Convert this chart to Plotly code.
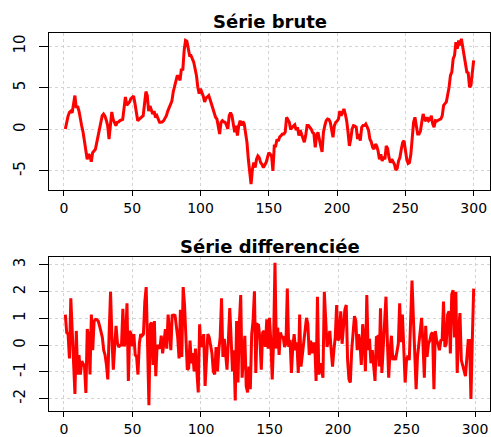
import plotly.graph_objects as go

# ---- Data ----
serie_brute = [
    0.05, 1.05, 1.6, 2.05, 2.2, 2.0, 3.2, 4.07, 2.6, 2.8,
    2.2, 1.0, 0.4, -0.35, -1.56, -2.97, -3.6, -3.0, -3.2, -3.9,
    -2.8, -2.6, -2.4, -1.6, -0.8, 0.05, 0.9, 1.65, 1.85, 1.6,
    1.1, 0.45, -1.16, 0.45, 2.1, 1.2, 0.7, 0.45, 0.85, 0.9,
    1.05, 1.1, 1.2, 2.55, 3.9, 2.9, 3.1, 3.3, 3.7, 3.8,
    4.0, 3.1, 2.0, 1.05, 1.2, 1.3, 1.5, 1.65, 2.9, 4.55,
    4.07, 2.2, 2.8, 2.2, 1.85, 2.2, 1.45, 1.65, 1.2, 0.85,
    0.85, 0.9, 1.05, 1.3, 1.65, 2.2, 2.6, 3.15, 3.4, 4.5,
    5.3, 6.1, 6.5, 6.3, 5.9, 7.3, 7.1, 9.5, 10.7, 10.6,
    9.5, 8.9, 8.9, 8.5, 8.1, 7.3, 6.5, 5.07, 4.3, 4.9,
    4.5, 4.0, 3.3, 3.75, 3.9, 4.07, 3.6, 3.0, 2.45, 1.8,
    1.45, 1.25, 0.45, -0.56, 0.85, 1.05, 0.9, 0.85, 0.5, 0.05,
    1.65, 2.0, 1.65, 0.6, -0.35, 0.45, -0.75, 0.45, 1.05, 0.45,
    0.95, 0.65, -0.3, -1.57, -3.6, -5.2, -6.6, -4.8, -4.0, -4.6,
    -3.6, -3.2, -3.4, -4.0, -4.2, -4.6, -4.3, -4.0, -3.4, -2.8,
    -3.0, -3.2, -5.0, -2.0, -2.0, -1.2, -1.4, -0.9, -0.75, -0.56,
    -0.56, -0.35, 1.45, 1.2, 0.85, 0.0, 0.25, 0.4, 0.55, -0.1,
    0.25, -0.75, -0.1, -0.6, -1.16, -1.56, -0.75, 0.45, 0.45, 0.25,
    0.05, -0.35, -0.5, -2.17, -0.75, -0.35, -1.36, -2.0, -2.7, -0.35,
    0.45, 1.05, 1.25, 1.2, 0.85, -0.1, -0.96, 0.45, 0.85, 1.0,
    1.25, 2.2, 1.65, 2.0, 2.45, 1.85, 1.05, -0.35, -2.0, -1.16,
    0.05, 0.45, 0.4, 0.25, -1.16, -0.56, -1.36, 0.25, 0.45, 0.45,
    0.65, 0.3, -0.1, -1.16, -1.5, -2.17, -2.37, -1.77, -2.0, -2.6,
    -3.6, -3.0, -3.8, -3.3, -3.6, -2.0, -2.3, -3.4, -4.0, -3.6,
    -4.0, -4.2, -4.9, -4.7, -3.8, -3.4, -2.4, -1.6, -1.36, -2.6,
    -3.6, -4.1, -4.0, -3.0, -0.5, 0.85, 1.45, 0.45, -0.56, -0.56,
    -0.2, 0.85, 1.85, 1.25, 1.0, 1.45, 1.05, 1.2, 1.65, 0.65,
    0.25, 1.05, 1.0, 1.1, 1.15, 1.25, 1.65, 2.9, 3.1, 3.3,
    4.2, 5.07, 6.5, 6.9, 8.5, 8.9, 10.5, 9.7, 10.7, 10.1,
    10.9, 10.1, 8.9, 7.9, 6.9, 6.8, 5.07, 5.3, 7.1, 8.3,
]

serie_diff = [
    1.14, 0.47, 0.41, -0.50, 1.75, 0.60, -0.07, -1.83, 0.53, -1.10,
    -0.37, -1.10, -0.60, -0.74, -0.80, -1.79, 0.60, 0.35, -1.10, 1.14,
    -0.19, 0.90, 0.96, 0.95, 0.90, 0.72, 0.50, 0.29, -0.19, -0.37,
    -0.74, -1.28, 0.50, 1.99, 0.29, -0.92, -0.07, 0.72, 0.10, -0.07,
    -0.01, 0.00, 1.36, -0.05, 0.20, 1.56, -1.34, 0.53, 0.41, -0.05,
    0.41, -0.37, -0.44, -1.10, 0.05, 0.41, 0.35, 0.41, 1.63, 2.17,
    0.05, -2.25, 0.78, 0.84, -0.74, 0.90, -1.16, 0.00, -0.07, -0.13,
    0.35, -0.31, 0.10, 0.60, -0.13, 1.14, 0.53, -0.19, 1.14, 1.10,
    1.14, 0.78, 0.29, -0.50, 1.32, -0.44, 2.17, 1.50, -0.07, -0.92,
    -0.86, 0.17, -0.68, -0.30, -0.98, -0.13, -0.98, -1.77, 0.78, -0.07,
    0.10, 0.41, -1.53, -0.68, 0.41, 0.29, -0.07, -0.30, -0.98, -1.10,
    -0.07, -0.98, -0.19, 0.30, 1.75, -0.44, 0.23, -0.31, -0.92, 0.20,
    1.38, 0.23, -0.98, -0.19, -2.07, 0.90, -1.40, 0.84, 1.87, -1.22,
    -0.31, 0.35, -1.53, -1.77, -0.80, -1.65, 0.41, 0.90, 2.01, -1.04,
    0.78, 0.75, 0.23, -0.92, 0.47, 0.53, -0.07, 0.96, -0.13, 1.02,
    0.10, -1.28, 0.17, 3.08, -0.13, 0.66, -0.37, 0.47, 0.29, 0.29,
    -0.07, 0.05, 2.11, -0.07, 0.20, -1.04, -0.07, 0.41, -0.19, 0.10,
    -1.04, 1.14, -0.80, -0.31, -0.07, 0.40, 1.02, 0.78, -0.37, 0.17,
    -0.31, 0.05, 0.05, -1.34, 1.81, -1.10, -0.68, -0.90, -1.22, 1.99,
    1.08, -0.07, 0.20, 0.53, -0.19, -0.80, -0.19, 0.30, 1.50, 0.17,
    0.29, 1.26, 0.05, 0.70, 1.32, 1.50, -0.56, -1.28, -1.40, -0.19,
    0.50, 1.08, 0.90, -0.19, 0.41, 0.10, -0.74, 0.78, 0.20, -0.98,
    1.87, -0.19, 0.23, -0.68, -0.19, -0.68, -1.34, 0.29, 0.32, -0.80,
    1.38, -1.04, -0.19, 0.50, 1.81, 0.17, -1.22, -0.19, 0.35, -0.56,
    -0.40, -0.56, -0.19, 0.05, 1.56, 0.11, 1.14, 0.05, -1.40, -0.56,
    -0.40, -0.56, 0.78, 2.41, 1.02, -0.19, -1.65, -0.44, 0.10, 0.41,
    1.02, 0.05, -1.22, 0.72, -0.44, 0.05, 0.17, 0.41, 0.47, -1.65,
    0.53, 0.17, 0.05, -0.19, 0.17, 0.20, 1.63, -0.07, 0.05, 1.14,
    1.26, -0.31, 1.90, 2.05, 0.29, 1.99, -1.04, 0.53, 1.20, -0.56,
    -0.80, -0.92, -1.16, -0.50, 0.17, 0.17, -2.01, 0.17, 2.11,
]

x_brute = list(range(1, len(serie_brute) + 1))
x_diff = list(range(1, len(serie_diff) + 1))
x_ticks = [0, 50, 100, 150, 200, 250, 300]
y_ticks_brute = [-5, 0, 5, 10]
y_ticks_diff = [-2, -1, 0, 1, 2, 3]
titles = ["Série brute", "Série differenciée"]


def r_range(vals):
    lo, hi = min(vals), max(vals)
    pad = 0.04 * (hi - lo)
    return [lo - pad, hi + pad]


FONT = "DejaVu Sans"
common = dict(showline=True, linecolor="black", linewidth=1, mirror=True,
              ticks="outside", tickcolor="black", tickwidth=1,
              showgrid=True, gridcolor="#D3D3D3", griddash="dot", gridwidth=1,
              zeroline=False, fixedrange=True, automargin=False)

fig = go.Figure()
fig.add_trace(go.Scatter(x=x_brute, y=serie_brute, mode="lines",
                         line=dict(color="red", width=3), xaxis="x", yaxis="y",
                         showlegend=False, hoverinfo="skip"))
fig.add_trace(go.Scatter(x=x_diff, y=serie_diff, mode="lines",
                         line=dict(color="red", width=3), xaxis="x2", yaxis="y2",
                         showlegend=False, hoverinfo="skip"))

TOP, BOTTOM = 33, 26
H_PLOT = 437 - TOP - BOTTOM
PLOT_BOTTOM = 437 - BOTTOM
top_lo = (PLOT_BOTTOM - 190) / H_PLOT
bot_hi = (PLOT_BOTTOM - 257) / H_PLOT


def xaxis(anchor, rng):
    return dict(domain=[0, 1], anchor=anchor, range=rng, tickvals=x_ticks,
                ticktext=[str(v) for v in x_ticks], ticklen=5,
                tickfont=dict(family=FONT, size=14, color="black"), **common)


def yaxis(anchor, dom, rng, ticks):
    return dict(domain=dom, anchor=anchor, range=rng, tickvals=ticks,
                ticktext=[str(v) for v in ticks], ticklen=9, tickangle=-90,
                ticklabelstandoff=8,
                tickfont=dict(family=FONT, size=15, color="black"), **common)


fig.update_layout(
    template="none",
    width=491, height=437,
    margin=dict(l=49, r=1, t=TOP, b=BOTTOM),
    paper_bgcolor="white", plot_bgcolor="white",
    showlegend=False,
    xaxis=xaxis("y", r_range(x_brute)),
    yaxis=yaxis("x", [top_lo, 1], r_range(serie_brute), y_ticks_brute),
    xaxis2=xaxis("y2", r_range(x_diff)),
    yaxis2=yaxis("x2", [0, bot_hi], r_range(serie_diff), y_ticks_diff),
    annotations=[
        dict(text="<b>" + titles[0] + "</b>", xref="paper", yref="paper",
             x=0.5, y=1 + 12 / H_PLOT, xanchor="center", yanchor="middle",
             showarrow=False, font=dict(family=FONT, size=18, color="black")),
        dict(text="<b>" + titles[1] + "</b>", xref="paper", yref="paper",
             x=0.5, y=bot_hi + 11 / H_PLOT, xanchor="center", yanchor="middle",
             showarrow=False, font=dict(family=FONT, size=18, color="black")),
    ],
)

fig.write_html(
    "out.html",
    config={"displayModeBar": False},
    post_script="document.body.style.margin='0';document.body.style.overflow='hidden';",
)
